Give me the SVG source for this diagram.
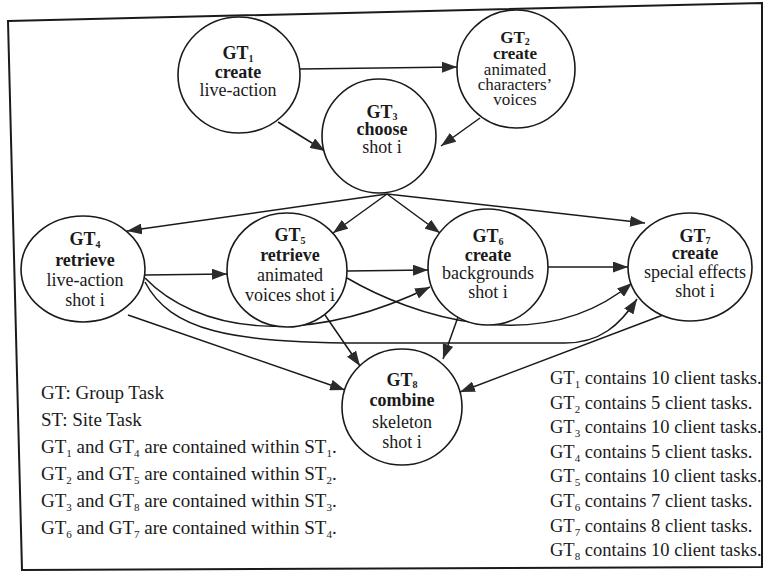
<svg xmlns="http://www.w3.org/2000/svg" width="764" height="578" viewBox="0 0 764 578">
  <style>
    .frame { fill: none; stroke: #1a1a1a; stroke-width: 2; }
    .node { fill: #fff; stroke: #1a1a1a; stroke-width: 1.6; }
    .edge { fill: none; stroke: #1a1a1a; stroke-width: 1.5; marker-end: url(#ah); }
    text { font-family: "Liberation Serif", "Times New Roman", "DejaVu Serif", serif; fill: #1a1a1a; }
    .n { font-size: 18px; text-anchor: middle; }
    .n2 { font-size: 17px; text-anchor: middle; }
    .b { font-weight: bold; }
    .sub { font-size: 11px; }
    .ns { font-size: 10px; }
    .lg { font-size: 19px; }
    .rg { font-size: 18.5px; }
  </style>
  <defs>
    <marker id="ah" markerWidth="15" markerHeight="11" refX="15" refY="5.5" orient="auto" markerUnits="userSpaceOnUse">
      <path d="M0,0 L15,5.5 L0,11 z" fill="#2b2b2b"/>
    </marker>
  </defs>

  <rect width="764" height="578" fill="#fff"/>
  <!-- outer border, slightly skewed -->
  <polygon class="frame" points="8,21 762,3 762,567 22,570"/>

  <!-- connectors -->
  <g id="edges">
    <path class="edge" d="M300,69 L457,67"/>
    <path class="edge" d="M278,122 L325,151"/>
    <path class="edge" d="M480,118 L441,146"/>
    <path class="edge" d="M387,194 L127,231"/>
    <path class="edge" d="M387,194 L333,233"/>
    <path class="edge" d="M387,194 L440,233"/>
    <path class="edge" d="M387,194 L645,223"/>
    <path class="edge" d="M145,275 L227,274"/>
    <path class="edge" d="M347,271 L428,270"/>
    <path class="edge" d="M547,267 L628,267"/>
    <path class="edge" d="M145,278 C195,330 300,350 430,287"/>
    <path class="edge" d="M145,282 C170,330 230,343 360,343 L565,343 C600,343 620,325 637,299"/>
    <path class="edge" d="M347,278 C410,315 540,360 632,283"/>
    <path class="edge" d="M128,315 L345,390"/>
    <path class="edge" d="M325,315 L360,366"/>
    <path class="edge" d="M458,317 L443,359"/>
    <path class="edge" d="M663,315 L460,392"/>
  </g>

  <g id="gt1">
    <ellipse class="node" cx="239" cy="75" rx="61" ry="58"/>
    <text class="n b" x="238" y="59">GT<tspan class="ns" dy="3">1</tspan></text>
    <text class="n b" x="238" y="78">create</text>
    <text class="n" x="238" y="96">live-action</text>
  </g>

  <g id="gt2">
    <ellipse class="node" cx="516" cy="69" rx="59" ry="59"/>
    <text class="n2 b" x="515" y="43">GT<tspan class="ns" dy="2">2</tspan></text>
    <text class="n2 b" x="515" y="59">create</text>
    <text class="n2" x="515" y="75">animated</text>
    <text class="n2" x="515" y="90">characters’</text>
    <text class="n2" x="515" y="105">voices</text>
  </g>

  <g id="gt3">
    <ellipse class="node" cx="379" cy="136" rx="57" ry="57"/>
    <text class="n b" x="382" y="118">GT<tspan class="ns" dy="2">3</tspan></text>
    <text class="n b" x="382" y="135">choose</text>
    <text class="n" x="382" y="153">shot i</text>
  </g>

  <g id="gt4">
    <ellipse class="node" cx="83" cy="269" rx="62" ry="53"/>
    <text class="n b" x="85" y="245">GT<tspan class="ns" dy="3">4</tspan></text>
    <text class="n b" x="85" y="266">retrieve</text>
    <text class="n" x="85" y="286">live-action</text>
    <text class="n" x="85" y="306">shot i</text>
  </g>

  <g id="gt5">
    <ellipse class="node" cx="287" cy="270" rx="60" ry="57"/>
    <text class="n b" x="290" y="241">GT<tspan class="ns" dy="3">5</tspan></text>
    <text class="n b" x="290" y="261">retrieve</text>
    <text class="n" x="290" y="281">animated</text>
    <text class="n" x="290" y="301">voices shot i</text>
  </g>

  <g id="gt6">
    <ellipse class="node" cx="488" cy="267" rx="60" ry="58"/>
    <text class="n b" x="488" y="242">GT<tspan class="ns" dy="3">6</tspan></text>
    <text class="n b" x="488" y="261">create</text>
    <text class="n" x="488" y="279">backgrounds</text>
    <text class="n" x="488" y="298">shot i</text>
  </g>

  <g id="gt7">
    <ellipse class="node" cx="690" cy="267" rx="62" ry="54"/>
    <text class="n b" x="695" y="242">GT<tspan class="ns" dy="2">7</tspan></text>
    <text class="n b" x="695" y="259">create</text>
    <text class="n" x="695" y="278">special effects</text>
    <text class="n" x="695" y="297">shot i</text>
  </g>

  <g id="gt8">
    <ellipse class="node" cx="402" cy="407" rx="60" ry="58"/>
    <text class="n b" x="402" y="386">GT<tspan class="ns" dy="2">8</tspan></text>
    <text class="n b" x="402" y="406">combine</text>
    <text class="n" x="402" y="428">skeleton</text>
    <text class="n" x="402" y="448">shot i</text>
  </g>

  <!-- legend: abbreviations and site membership -->
  <g id="legend-sites">
    <text class="lg" x="41" y="399">GT: Group Task</text>
    <text class="lg" x="41" y="426">ST: Site Task</text>
    <text class="lg" x="41" y="453">GT<tspan class="sub" dy="4">1</tspan><tspan dy="-4"> and GT</tspan><tspan class="sub" dy="4">4</tspan><tspan dy="-4"> are contained within ST</tspan><tspan class="sub" dy="4">1</tspan><tspan dy="-4">.</tspan></text>
    <text class="lg" x="41" y="480">GT<tspan class="sub" dy="4">2</tspan><tspan dy="-4"> and GT</tspan><tspan class="sub" dy="4">5</tspan><tspan dy="-4"> are contained within ST</tspan><tspan class="sub" dy="4">2</tspan><tspan dy="-4">.</tspan></text>
    <text class="lg" x="41" y="507">GT<tspan class="sub" dy="4">3</tspan><tspan dy="-4"> and GT</tspan><tspan class="sub" dy="4">8</tspan><tspan dy="-4"> are contained within ST</tspan><tspan class="sub" dy="4">3</tspan><tspan dy="-4">.</tspan></text>
    <text class="lg" x="41" y="534">GT<tspan class="sub" dy="4">6</tspan><tspan dy="-4"> and GT</tspan><tspan class="sub" dy="4">7</tspan><tspan dy="-4"> are contained within ST</tspan><tspan class="sub" dy="4">4</tspan><tspan dy="-4">.</tspan></text>
  </g>

  <!-- legend: client task counts -->
  <g id="legend-counts">
    <text class="rg" x="550" y="384">GT<tspan class="sub" dy="4">1</tspan><tspan dy="-4"> contains 10 client tasks.</tspan></text>
    <text class="rg" x="550" y="409">GT<tspan class="sub" dy="4">2</tspan><tspan dy="-4"> contains 5 client tasks.</tspan></text>
    <text class="rg" x="550" y="433">GT<tspan class="sub" dy="4">3</tspan><tspan dy="-4"> contains 10 client tasks.</tspan></text>
    <text class="rg" x="550" y="458">GT<tspan class="sub" dy="4">4</tspan><tspan dy="-4"> contains 5 client tasks.</tspan></text>
    <text class="rg" x="550" y="482">GT<tspan class="sub" dy="4">5</tspan><tspan dy="-4"> contains 10 client tasks.</tspan></text>
    <text class="rg" x="550" y="507">GT<tspan class="sub" dy="4">6</tspan><tspan dy="-4"> contains 7 client tasks.</tspan></text>
    <text class="rg" x="550" y="532">GT<tspan class="sub" dy="4">7</tspan><tspan dy="-4"> contains 8 client tasks.</tspan></text>
    <text class="rg" x="550" y="556">GT<tspan class="sub" dy="4">8</tspan><tspan dy="-4"> contains 10 client tasks.</tspan></text>
  </g>
</svg>
